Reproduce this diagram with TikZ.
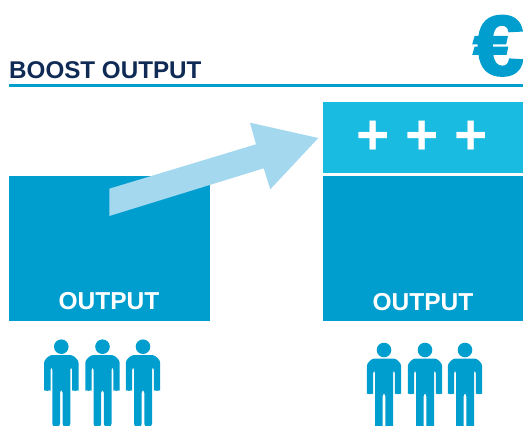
\documentclass[tikz,border=0pt]{standalone}
\usepackage{fontspec}
\setmainfont{Liberation Sans}
\newfontfamily\eurofont[BoldFeatures={FakeStretch=1.07,FakeBold=2.5}]{Liberation Sans}
\definecolor{mainblue}{HTML}{009ECE}
\definecolor{topblue}{HTML}{19BBE0}
\definecolor{arrowblue}{HTML}{A3D8EF}
\definecolor{navy}{HTML}{0F2A55}
\tikzset{
  x=1pt,y=-1pt,
  boxfill/.style={fill=mainblue,draw=none},
  boxlabel/.style={text=white,font=\bfseries\fontsize{24.5}{24.5}\selectfont,inner sep=0pt},
  pics/person/.style={code={
    \fill[mainblue] (0,0) circle[radius=7.3];
    \fill[mainblue,rounded corners=3pt]
      (-17.2,19) arc[start angle=180,end angle=270,radius=10.5] -- (6.7,8.5) arc[start angle=-90,end angle=0,radius=10.5]
      -- (17.2,41) arc[start angle=0,end angle=180,radius=3.2] -- (10.8,20) -- (9,20)
      -- (9,80) -- (1.3,80) -- (1.3,43) -- (-1.3,43) -- (-1.3,80) -- (-9,80) -- (-9,20) -- (-10.8,20)
      -- (-10.8,41) arc[start angle=0,end angle=180,radius=3.2] -- cycle;
  }}
}
\begin{document}
\begin{tikzpicture}
\useasboundingbox (0,0) rectangle (523,426);
\begin{scope}
\clip (0,0) rectangle (523,426);
\node[text=mainblue,font=\eurofont\bfseries\fontsize{85}{85}\selectfont,inner sep=0pt,anchor=base west] (euro) at (473,75) {€};
\node[text=navy,font=\bfseries\fontsize{24.2}{24.2}\selectfont,inner sep=0pt,anchor=base west] (title) at (9,78) {BOOST OUTPUT};
\fill[mainblue] (9,84) rectangle (523,86.5);
\fill[boxfill] (9,176) rectangle (210,321);
\fill[boxfill] (323,176) rectangle (523,321);
\fill[topblue] (323,102) rectangle (523,173);
\fill[arrowblue] (109.3,188.7) -- (256,144.3) -- (250,122.7) -- (318.3,138) -- (270.3,189.3) -- (263.7,168.3) -- (109.3,216) -- cycle;
\node[boxlabel] (leftlabel) at (109,301) {OUTPUT};
\node[boxlabel] (rightlabel) at (423,302) {OUTPUT};
\node[text=white,font=\bfseries\fontsize{57}{57}\selectfont,inner sep=0pt] (plus) at (422,138) {+ + +};
\foreach \cx/\cy in {61.3/346.7,102.5/346.7,143/346.7,384/350,425/350,465/350}
  \pic at (\cx,\cy) {person};
\end{scope}
\end{tikzpicture}
\end{document}
